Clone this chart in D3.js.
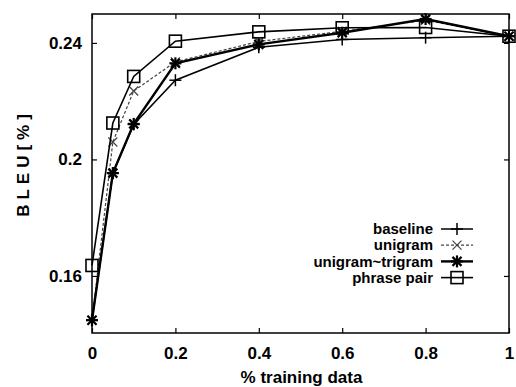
<!DOCTYPE html>
<html>
<head>
<meta charset="utf-8">
<script src="https://cdn.jsdelivr.net/npm/d3@7"></script>
<style>
  html, body { margin: 0; padding: 0; background: #fff; }
  svg { display: block; }
  text { font-family: "Liberation Sans", Arial, sans-serif; fill: #000; }
</style>
</head>
<body>
<svg id="chart" width="516" height="387"></svg>
<script>
// ---- data ----
const trainingFractions = [0, 0.05, 0.1, 0.2, 0.4, 0.6, 0.8, 1.0];
const baseline       = [0.1448, 0.1953, 0.2120, 0.2272, 0.2385, 0.2412, 0.2418, 0.2423];
const unigram        = [0.1448, 0.2060, 0.2235, 0.2335, 0.2405, 0.2440, 0.2478, 0.2423];
const unigramTrigram = [0.1448, 0.1953, 0.2122, 0.2330, 0.2395, 0.2435, 0.2482, 0.2423];
const phrasePair     = [0.1636, 0.2125, 0.2285, 0.2406, 0.2438, 0.2452, 0.2453, 0.2423];
const seriesNames = ["baseline", "unigram", "unigram~trigram", "phrase pair"];
const xTicks = [0, 0.2, 0.4, 0.6, 0.8, 1];
const xTickLabels = ["0", "0.2", "0.4", "0.6", "0.8", "1"];
const yTicks = [0.16, 0.2, 0.24];
const yTickLabels = ["0.16", "0.2", "0.24"];
const xTitle = "% training data";
const yTitle = "BLEU[%]";

// ---- layout ----
const L = 92, R = 509, T = 14, B = 333;
const svg = d3.select("#chart");
const x = d3.scaleLinear().domain([0, 1]).range([L, R]);
const y = d3.scaleLinear().domain([0.14, 0.25]).range([334.2, 13.8]);

const series = [
  { name: seriesNames[0], values: baseline,       marker: "plus",   width: 1.5, dash: null,  color: "#000" },
  { name: seriesNames[1], values: unigram,        marker: "cross",  width: 1.2, dash: "3,2", color: "#444" },
  { name: seriesNames[2], values: unigramTrigram, marker: "star",   width: 2.4, dash: null,  color: "#000" },
  { name: seriesNames[3], values: phrasePair,     marker: "square", width: 1.6, dash: null,  color: "#000" }
];

// axes (ticks inward)
const tickLen = 5;
const gx = svg.append("g").attr("transform", `translate(0,${B})`)
  .call(d3.axisBottom(x).tickValues(xTicks).tickFormat((d, i) => xTickLabels[i]).tickSize(-tickLen).tickPadding(14));
const gxt = svg.append("g").attr("transform", `translate(0,${T})`)
  .call(d3.axisTop(x).tickValues(xTicks).tickFormat("").tickSize(-tickLen));
const gy = svg.append("g").attr("transform", `translate(${L},0)`)
  .call(d3.axisLeft(y).tickValues(yTicks).tickFormat((d, i) => yTickLabels[i]).tickSize(-tickLen).tickPadding(10));
const gyr = svg.append("g").attr("transform", `translate(${R},0)`)
  .call(d3.axisRight(y).tickValues(yTicks).tickFormat("").tickSize(-tickLen));
[gx, gxt, gy, gyr].forEach(g => {
  g.select(".domain").remove();
  g.selectAll(".tick line").attr("stroke", "#000").attr("stroke-width", 1.2);
  g.selectAll("text").attr("font-size", 17).attr("font-weight", "bold")
    .style("font-family", "'Liberation Sans', Arial, sans-serif");
});
gx.selectAll(".tick text").attr("dy", "0.71em");

// frame
svg.append("rect").attr("x", L).attr("y", T).attr("width", R - L).attr("height", B - T)
  .attr("fill", "none").attr("stroke", "#000").attr("stroke-width", 1.5);

// axis titles
svg.append("text").attr("x", (L + R) / 2 + 1).attr("y", 383)
  .attr("text-anchor", "middle").attr("font-size", 17).attr("font-weight", "bold").text(xTitle);
svg.append("text").attr("transform", "translate(29,163) rotate(-90)")
  .attr("text-anchor", "middle").attr("font-size", 17).attr("font-weight", "bold")
  .attr("letter-spacing", 5).text(yTitle);

// marker drawing
function drawMarker(g, type, cx, cy, color) {
  const s = 6;
  const st = (sel, w) => sel.attr("stroke", color).attr("stroke-width", w).attr("fill", "none");
  if (type === "plus" || type === "star") {
    const w = type === "star" ? 2.2 : 1.5;
    st(g.append("line").attr("x1", cx - s).attr("x2", cx + s).attr("y1", cy).attr("y2", cy), w);
    st(g.append("line").attr("x1", cx).attr("x2", cx).attr("y1", cy - s).attr("y2", cy + s), w);
  }
  if (type === "cross" || type === "star") {
    const w = type === "star" ? 2.2 : 1.2;
    const d = s * 0.75;
    st(g.append("line").attr("x1", cx - d).attr("x2", cx + d).attr("y1", cy - d).attr("y2", cy + d), w);
    st(g.append("line").attr("x1", cx - d).attr("x2", cx + d).attr("y1", cy + d).attr("y2", cy - d), w);
  }
  if (type === "square") {
    st(g.append("rect").attr("x", cx - s).attr("y", cy - s).attr("width", 2 * s).attr("height", 2 * s), 1.6);
  }
}

const line = d3.line().x(d => x(d[0])).y(d => y(d[1]));
const plot = svg.append("g");
series.forEach(sr => {
  const pts = trainingFractions.map((f, i) => [f, sr.values[i]]);
  plot.append("path").datum(pts).attr("d", line)
    .attr("fill", "none").attr("stroke", sr.color).attr("stroke-width", sr.width)
    .attr("stroke-dasharray", sr.dash);
  const mg = plot.append("g");
  pts.forEach(p => drawMarker(mg, sr.marker, x(p[0]), y(p[1]), sr.color));
});

// legend
const legX = 433, legY0 = 229, legDy = 16.2;
series.forEach((sr, i) => {
  const ly = legY0 + i * legDy;
  svg.append("text").attr("x", legX).attr("y", ly).attr("dy", "0.35em")
    .attr("text-anchor", "end").attr("font-size", 15).attr("font-weight", "bold").text(sr.name);
  svg.append("line").attr("x1", 441).attr("x2", 473).attr("y1", ly).attr("y2", ly)
    .attr("stroke", sr.color).attr("stroke-width", sr.width).attr("stroke-dasharray", sr.dash);
  drawMarker(svg.append("g"), sr.marker, 457, ly, sr.color);
});
</script>
</body>
</html>
